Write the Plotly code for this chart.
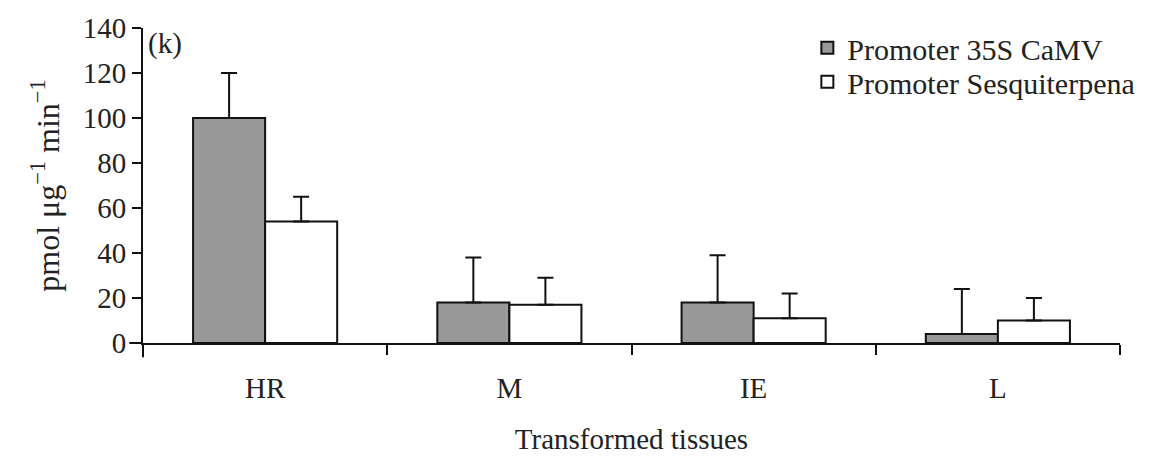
import plotly.graph_objects as go

categories = ["HR", "M", "IE", "L"]
camv_values = [100, 18, 18, 4]
camv_err = [20, 20, 21, 20]
sesq_values = [54, 17, 11, 10]
sesq_err = [11, 12, 11, 10]
series_names = ["Promoter 35S CaMV", "Promoter Sesquiterpena"]

FONT = "Liberation Serif, Times New Roman, serif"
FS = 29

fig = go.Figure()
fig.add_trace(go.Bar(
    x=categories, y=camv_values, name=series_names[0], legend="legend",
    marker=dict(color="#999999", line=dict(color="#111111", width=2)),
    error_y=dict(type="data", array=camv_err, arrayminus=[0]*4, symmetric=False,
                 color="#111111", thickness=2, width=8),
))
fig.add_trace(go.Bar(
    x=categories, y=sesq_values, name=series_names[1], legend="legend2",
    marker=dict(color="#ffffff", line=dict(color="#111111", width=2)),
    error_y=dict(type="data", array=sesq_err, arrayminus=[0]*4, symmetric=False,
                 color="#111111", thickness=2, width=8),
))

leg_common = dict(xanchor="left", yanchor="middle", bgcolor="rgba(0,0,0,0)",
                  font=dict(size=30, family=FONT, color="#222222"), itemwidth=30)

fig.update_layout(
    width=1151, height=462,
    margin=dict(l=135, r=39, t=20, b=127, autoexpand=False),
    paper_bgcolor="white", plot_bgcolor="white",
    barmode="group", bargap=0.41, bargroupgap=0,
    font=dict(family=FONT, size=FS, color="#222222"),
    showlegend=True,
    legend=dict(x=0.68, y=0.937, **leg_common),
    legend2=dict(x=0.68, y=0.829, **leg_common),
    xaxis=dict(
        showline=True, linecolor="#111111", linewidth=2,
        ticks="outside", tickson="boundaries", ticklen=10, tickwidth=2, tickcolor="#111111",
        tickfont=dict(size=FS), showgrid=False, ticklabelstandoff=18,
        title=dict(text="Transformed tissues", font=dict(size=FS), standoff=26),
    ),
    yaxis=dict(
        range=[0, 140], dtick=20, showline=True, linecolor="#111111", linewidth=2,
        ticks="outside", ticklen=9, tickwidth=2, tickcolor="#111111",
        tickfont=dict(size=FS), showgrid=False, zeroline=False,
        title=dict(text="pmol μg<sup>−1</sup> min<sup>−1</sup>", font=dict(size=32), standoff=14),
    ),
)

fig.add_annotation(text="(k)", xref="paper", yref="paper", x=0.003, y=1.01,
                   xanchor="left", yanchor="top", showarrow=False,
                   font=dict(size=FS, family=FONT, color="#222222"))

# axis line extensions as in the original
fig.add_shape(type="line", xref="paper", yref="paper", x0=0, x1=0, y0=0, y1=-0.045,
              line=dict(color="#111111", width=2))
fig.add_shape(type="line", xref="paper", yref="paper", x0=-0.014, x1=0, y0=0, y1=0,
              line=dict(color="#111111", width=2))

fig.write_html("out.html")
